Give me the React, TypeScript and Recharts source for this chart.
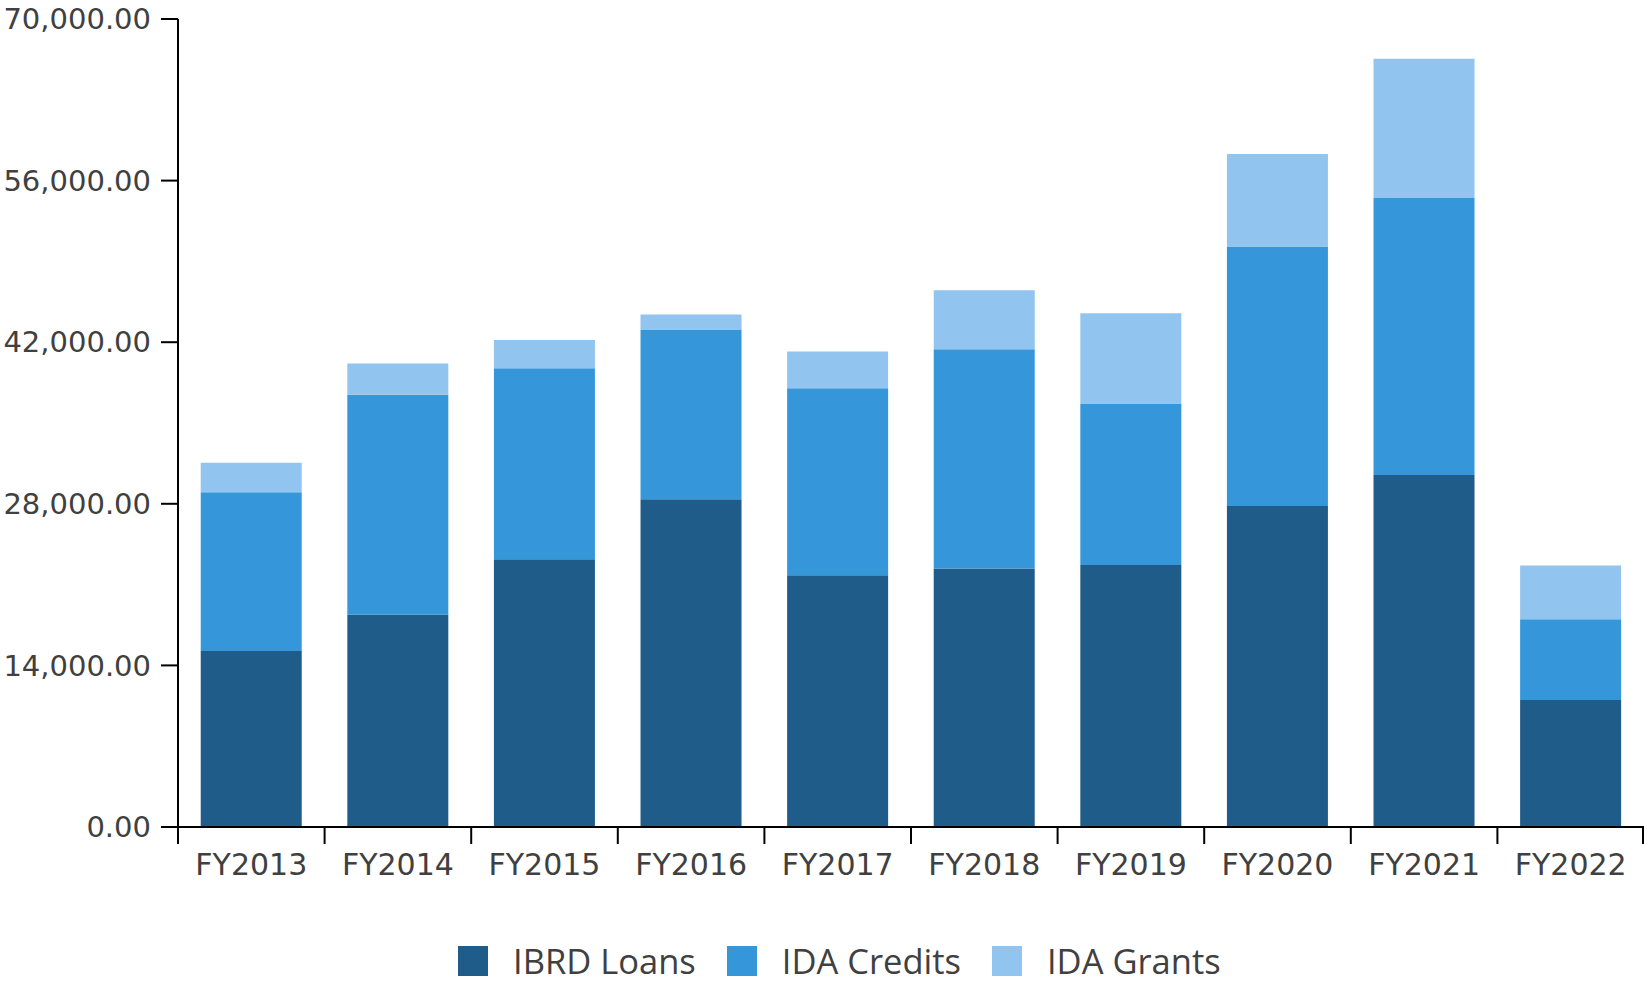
import React from "react";
import { Bar, BarChart, Legend, XAxis, YAxis } from "recharts";

const years = [
  "FY2013",
  "FY2014",
  "FY2015",
  "FY2016",
  "FY2017",
  "FY2018",
  "FY2019",
  "FY2020",
  "FY2021",
  "FY2022",
];
const ibrdLoans = [15250, 18400, 23200, 28400, 21800, 22400, 22700, 27800, 30500, 11000];
const idaCredits = [13750, 19050, 16550, 14700, 16200, 19000, 14000, 22500, 24000, 7000];
const idaGrants = [2550, 2700, 2450, 1300, 3200, 5100, 7800, 8000, 12050, 4650];
const yTicks = [0, 14000, 28000, 42000, 56000, 70000];

const COLORS = {
  ibrd: "#1f5c8a",
  credits: "#3597d9",
  grants: "#91c4ee",
};

const TEXT = "#404040";
const AXIS_FONT = "'DejaVu Sans', sans-serif";
const TICK_SIZE = 17;
const TICK_MARGIN = 10;

const data = years.map((year, i) => ({
  year,
  ibrd: ibrdLoans[i],
  credits: idaCredits[i],
  grants: idaGrants[i],
}));

const formatValue = (v: number) =>
  v.toLocaleString("en-US", { minimumFractionDigits: 2, maximumFractionDigits: 2 });

// category ticks sit on the band edges, labels in the band middle
function YearTick(props: any) {
  const { x, y, payload, index } = props;
  const half = payload?.offset ?? 0;
  const top = y - TICK_SIZE - TICK_MARGIN;
  return (
    <g>
      <line x1={x - half} x2={x - half} y1={top} y2={top + TICK_SIZE} stroke="#000" strokeWidth={2} />
      {index === years.length - 1 && (
        <line
          x1={x + half - 1}
          x2={x + half - 1}
          y1={top}
          y2={top + TICK_SIZE}
          stroke="#000"
          strokeWidth={2}
        />
      )}
      <text
        x={x}
        y={y}
        dy="0.71em"
        textAnchor="middle"
        fill={TEXT}
        fontSize={30}
        fontFamily={AXIS_FONT}
      >
        {payload.value}
      </text>
    </g>
  );
}

function LegendContent(props: any) {
  const items = props.payload ?? [];
  return (
    <div
      style={{
        display: "flex",
        alignItems: "center",
        height: 44,
        paddingLeft: 458,
        boxSizing: "border-box",
        fontFamily: "'Open Sans', sans-serif",
        fontSize: 34.5,
        color: TEXT,
      }}
    >
      {items.map((item: any) => (
        <div key={item.value} style={{ display: "flex", alignItems: "center", marginRight: 31 }}>
          <span style={{ width: 30, height: 30, background: item.color, marginRight: 25 }} />
          <span style={{ lineHeight: "42px" }}>{item.value}</span>
        </div>
      ))}
    </div>
  );
}

export default function App() {
  return (
    <div style={{ width: 1644, height: 983, background: "#fff" }}>
      <style>{"body{margin:0}"}</style>
      <BarChart
        width={1644}
        height={983}
        data={data}
        margin={{ top: 19, right: 0, left: 0, bottom: 0 }}
        barCategoryGap="15.5%"
      >
        <XAxis
          dataKey="year"
          height={112}
          tickLine={false}
          tickSize={TICK_SIZE}
          tickMargin={TICK_MARGIN}
          axisLine={{ stroke: "#000", strokeWidth: 2 }}
          tick={<YearTick />}
          interval={0}
        />
        <YAxis
          width={178}
          domain={[0, 70000]}
          ticks={yTicks}
          tickFormatter={formatValue}
          tickSize={TICK_SIZE}
          tickMargin={10}
          axisLine={{ stroke: "#000", strokeWidth: 2 }}
          tickLine={{ stroke: "#000", strokeWidth: 2 }}
          tick={{ fill: TEXT, fontSize: 29, fontFamily: AXIS_FONT }}
          interval={0}
        />
        <Legend verticalAlign="bottom" content={<LegendContent />} />
        <Bar dataKey="ibrd" name="IBRD Loans" stackId="a" fill={COLORS.ibrd} isAnimationActive={false} />
        <Bar dataKey="credits" name="IDA Credits" stackId="a" fill={COLORS.credits} isAnimationActive={false} />
        <Bar dataKey="grants" name="IDA Grants" stackId="a" fill={COLORS.grants} isAnimationActive={false} />
      </BarChart>
    </div>
  );
}
